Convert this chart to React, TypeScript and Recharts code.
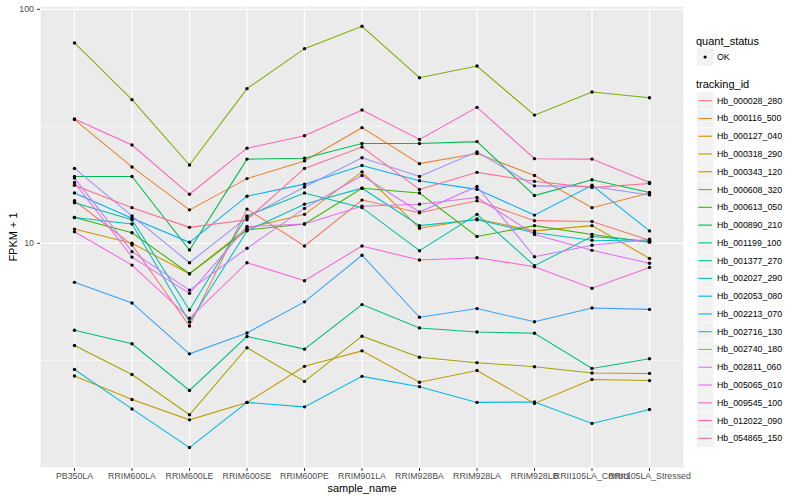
import React from 'react';
import { LineChart, Line, XAxis, YAxis, CartesianGrid } from 'recharts';

const samples = ['PB350LA', 'RRIM600LA', 'RRIM600LE', 'RRIM600SE', 'RRIM600PE', 'RRIM901LA', 'RRIM928BA', 'RRIM928LA', 'RRIM928LB', 'RRII105LA_Control', 'RRII105LA_Stressed'];

const trackingIds = ['Hb_000028_280', 'Hb_000116_500', 'Hb_000127_040', 'Hb_000318_290', 'Hb_000343_120', 'Hb_000608_320', 'Hb_000613_050', 'Hb_000890_210', 'Hb_001199_100', 'Hb_001377_270', 'Hb_002027_290', 'Hb_002053_080', 'Hb_002213_070', 'Hb_002716_130', 'Hb_002740_180', 'Hb_002811_060', 'Hb_005065_010', 'Hb_009545_100', 'Hb_012022_090', 'Hb_054865_150'];

const colors = ['#F8766D', '#EA8331', '#D89000', '#C09B00', '#A3A500', '#7CAE00', '#39B600', '#00BB4E', '#00BF7D', '#00C1A3', '#00BFC4', '#00BAE0', '#00B0F6', '#35A2FF', '#9590FF', '#C77CFF', '#E76BF3', '#FA62DB', '#FF62BC', '#FF6C91'];

const hb000028 = [15.2, 9.84, 4.43, 14.0, 9.74, 15.3, 13.5, 15.2, 12.5, 12.4, 10.3];
const hb000116 = [33.8, 21.2, 13.9, 18.9, 22.5, 31.2, 21.9, 24.2, 19.5, 14.2, 16.4];
const hb000127 = [11.5, 10.0, 7.41, 11.6, 13.3, 20.2, 11.6, 12.7, 11.3, 11.9, 8.62];
const hb000318 = [2.71, 2.15, 1.76, 2.09, 2.98, 3.47, 2.55, 2.86, 2.07, 2.62, 2.59];
const hb000343 = [3.66, 2.75, 1.85, 3.58, 2.57, 4.01, 3.26, 3.09, 2.97, 2.79, 2.78];
const hb000608 = [71.8, 41.1, 21.6, 45.8, 67.9, 84.6, 51.0, 57.2, 35.3, 44.3, 41.9];
const hb000613 = [12.9, 11.1, 7.41, 11.4, 12.1, 17.2, 16.4, 10.7, 11.9, 10.9, 10.1];
const hb000890 = [19.3, 19.3, 9.36, 22.9, 23.1, 26.7, 26.7, 27.2, 16.0, 18.7, 16.5];
const hb001199 = [4.25, 3.72, 2.35, 4.0, 3.53, 5.47, 4.35, 4.18, 4.13, 2.92, 3.21];
const hb001377 = [14.9, 12.6, 5.19, 13.1, 16.4, 14.2, 9.3, 13.3, 8.02, 10.7, 10.2];
const hb002027 = [12.9, 12.1, 4.61, 11.3, 14.7, 17.2, 11.9, 12.6, 11.1, 10.3, 10.2];
const hb002053 = [2.89, 1.96, 1.34, 2.09, 2.0, 2.7, 2.44, 2.09, 2.1, 1.7, 1.95];
const hb002213 = [16.4, 12.8, 10.1, 15.9, 17.9, 21.5, 18.5, 17.0, 13.2, 17.7, 11.3];
const hb002716 = [6.81, 5.56, 3.37, 4.14, 5.62, 8.89, 4.83, 5.26, 4.62, 5.29, 5.22];
const hb002740 = [20.9, 13.1, 8.26, 12.9, 17.4, 23.2, 19.3, 24.6, 17.6, 17.5, 16.1];
const hb002811 = [19.0, 9.21, 6.31, 9.52, 14.1, 19.5, 13.6, 17.5, 8.76, 9.81, 10.4];
const hb005065 = [18.2, 8.73, 6.11, 11.8, 12.1, 14.4, 14.7, 15.7, 10.9, 9.33, 8.22];
const hb009545 = [11.2, 8.07, 4.78, 8.26, 6.92, 9.74, 8.48, 8.68, 7.94, 6.43, 7.89];
const hb012022 = [34.0, 26.3, 16.2, 25.5, 28.8, 37.1, 27.8, 38.1, 23.0, 22.9, 18.2];
const hb054865 = [17.7, 14.2, 11.7, 12.6, 20.9, 25.8, 17.0, 20.1, 18.4, 17.3, 18.0];

const seriesValues = [hb000028, hb000116, hb000127, hb000318, hb000343, hb000608, hb000613, hb000890, hb001199, hb001377, hb002027, hb002053, hb002213, hb002716, hb002740, hb002811, hb005065, hb009545, hb012022, hb054865];

const yMajorTicks = [10, 100];
const yMinorTicks = [3.1623, 31.623];
const yDomain = [1.096, 103.3];
const xIndices = samples.map((_, i) => i);

const data = samples.map((s, i) => {
  const row: Record<string, number | string> = { idx: i, sample: s };
  trackingIds.forEach((id, k) => {
    row[id] = seriesValues[k][i];
  });
  return row;
});

const FONT = '"Liberation Sans", Arial, Helvetica, sans-serif';

const YTitle = (props: any) => {
  const vb = props.viewBox || { x: 0, y: 0, width: 40, height: 462 };
  const cx = vb.x + 13;
  const cy = vb.y + vb.height / 2;
  return (
    <text x={cx} y={cy} transform={`rotate(-90, ${cx}, ${cy})`} textAnchor="middle" dominantBaseline="central" fontSize={11} fill="#000" fontFamily={FONT}>
      FPKM + 1
    </text>
  );
};

const XTitle = (props: any) => {
  const vb = props.viewBox || { x: 40, y: 468, width: 644, height: 32 };
  return (
    <text x={vb.x + vb.width / 2} y={vb.y + 20} textAnchor="middle" dominantBaseline="central" fontSize={11} fill="#000" fontFamily={FONT}>
      sample_name
    </text>
  );
};

const LegendBox = () => {
  const rowStart = 100.7;
  const rowStep = 17.77;
  return (
    <svg width={110} height={500} style={{ position: 'absolute', left: 690, top: 0 }}>
      <text x={6} y={40.7} fontSize={11} fontFamily={FONT} dominantBaseline="central" fill="#000">quant_status</text>
      <rect x={6.8} y={48.4} width={16.6} height={17.2} fill="#F2F2F2" />
      <circle cx={15.1} cy={57} r={1.6} fill="#000" />
      <text x={27} y={57} fontSize={8.8} fontFamily={FONT} dominantBaseline="central" fill="#000">OK</text>
      <text x={6} y={84.3} fontSize={11} fontFamily={FONT} dominantBaseline="central" fill="#000">tracking_id</text>
      {trackingIds.map((id, i) => {
        const cy = rowStart + i * rowStep;
        return (
          <g key={id}>
            <rect x={6.8} y={cy - 8.6} width={16.6} height={17.2} fill="#F2F2F2" />
            <line x1={8.3} x2={21.9} y1={cy} y2={cy} stroke={colors[i]} strokeWidth={1.1} />
            <text x={27} y={cy} fontSize={8.8} fontFamily={FONT} dominantBaseline="central" fill="#000">{id}</text>
          </g>
        );
      })}
    </svg>
  );
};

export default function App() {
  return (
    <div style={{ position: 'absolute', left: 0, top: 0, width: 800, height: 500, background: '#fff', fontFamily: FONT }}>
      <LineChart width={800} height={500} data={data} margin={{ top: 6, right: 116, bottom: 0, left: 0 }}>
        <CartesianGrid fill="#EBEBEB" stroke="#FFFFFF" strokeWidth={0.6} vertical={false} yAxisId="minor" />
        <CartesianGrid stroke="#FFFFFF" strokeWidth={1.2} fillOpacity={0} />
        <XAxis
          dataKey="idx"
          type="number"
          domain={[-0.6, 10.6]}
          ticks={xIndices}
          interval={0}
          allowDataOverflow
          height={32}
          axisLine={false}
          tickLine={{ stroke: '#333333' }}
          tickSize={3}
          tickMargin={2}
          tick={{ fontSize: 8.8, fill: '#4D4D4D', fontFamily: FONT }}
          tickFormatter={(v: number) => samples[v] ?? ''}
          label={<XTitle />}
        />
        <YAxis
          yAxisId="minor"
          scale="log"
          type="number"
          domain={yDomain}
          allowDataOverflow
          ticks={yMinorTicks}
          interval={0}
          hide
        />
        <YAxis
          scale="log"
          type="number"
          domain={yDomain}
          allowDataOverflow
          ticks={yMajorTicks}
          interval={0}
          width={40}
          axisLine={false}
          tickLine={{ stroke: '#333333' }}
          tickSize={3}
          tickMargin={3}
          tick={{ fontSize: 8.8, fill: '#4D4D4D', fontFamily: FONT }}
          label={<YTitle />}
        />
        {trackingIds.map((id, i) => (
          <Line
            key={id}
            type="linear"
            dataKey={id}
            stroke={colors[i]}
            strokeWidth={1.05}
            dot={{ r: 1.7, fill: '#000', stroke: 'none' }}
            activeDot={false}
            isAnimationActive={false}
          />
        ))}
      </LineChart>
      <LegendBox />
    </div>
  );
}
